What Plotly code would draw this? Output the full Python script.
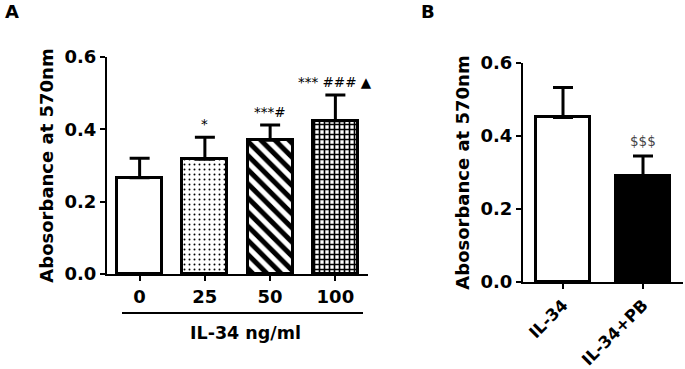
import plotly.graph_objects as go

# Panel A data
a_categories = ["0", "25", "50", "100"]
a_means = [0.266, 0.317, 0.370, 0.424]
a_errors = [0.054, 0.061, 0.042, 0.071]
a_signif = ["", "*", "***#", "*** ### ▲"]
a_xtitle = "IL-34 ng/ml"

# Panel B data
b_categories = ["IL-34", "IL-34+PB"]
b_means = [0.451, 0.291]
b_errors = [0.082, 0.054]
b_signif = ["", "$$$"]

ytitle = "Abosorbance at 570nm"
yticks = [0.0, 0.2, 0.4, 0.6]

FONT = "DejaVu Sans, sans-serif"

fig = go.Figure()

a_patterns = [
    dict(shape=""),
    dict(shape=".", fgcolor="black", bgcolor="white", fgopacity=1, size=5, solidity=0.12),
    dict(shape="\\", fgcolor="black", bgcolor="white", fgopacity=1, size=10, solidity=0.5),
    dict(shape="+", fgcolor="black", bgcolor="white", fgopacity=1, size=5, solidity=0.55),
]

for i, c in enumerate(a_categories):
    fig.add_trace(go.Bar(
        x=[c], y=[a_means[i]], xaxis="x", yaxis="y",
        width=0.69,
        marker=dict(color="white", line=dict(color="black", width=3), pattern=a_patterns[i]),
        error_y=dict(type="data", array=[a_errors[i]], arrayminus=[0], symmetric=False,
                     color="black", thickness=3, width=10),
        showlegend=False,
    ))

b_colors = ["white", "black"]
for i, c in enumerate(b_categories):
    fig.add_trace(go.Bar(
        x=[c], y=[b_means[i]], xaxis="x2", yaxis="y2",
        width=0.67,
        marker=dict(color=b_colors[i], line=dict(color="black", width=3)),
        error_y=dict(type="data", array=[b_errors[i]], arrayminus=[0], symmetric=False,
                     color="black", thickness=3, width=10),
        showlegend=False,
    ))

axis_common = dict(
    showline=True, linecolor="black", linewidth=2,
    ticks="outside", tickcolor="black", tickwidth=2, ticklen=5,
    showgrid=False, zeroline=False, automargin=False,
    tickfont=dict(family=FONT, size=18, color="black", weight="bold"),
)

annotations = []
for i, s in enumerate(a_signif):
    if s:
        # category axes: annotation x given as category index
        annotations.append(dict(x=i, y=a_means[i] + a_errors[i], xref="x", yref="y",
                                text=s, showarrow=False, yanchor="bottom", yshift=3,
                                font=dict(family=FONT, size=13.5, color="black")))
for i, s in enumerate(b_signif):
    if s:
        annotations.append(dict(x=i, y=b_means[i] + b_errors[i], xref="x2", yref="y2",
                                text=s, showarrow=False, yanchor="bottom", yshift=5,
                                font=dict(family=FONT, size=13.5, color="#444444")))

annotations += [
    dict(x=12/685, y=1 - 12/369, xref="paper", yref="paper", text="A", showarrow=False,
         xanchor="center", yanchor="middle", font=dict(family=FONT, size=18, color="black", weight="bold")),
    dict(x=428/685, y=1 - 12/369, xref="paper", yref="paper", text="B", showarrow=False,
         xanchor="center", yanchor="middle", font=dict(family=FONT, size=18, color="black", weight="bold")),
    dict(x=245/685, y=1 - 333/369, xref="paper", yref="paper", text=a_xtitle, showarrow=False,
         xanchor="center", yanchor="middle", font=dict(family=FONT, size=17.5, color="black", weight="bold")),
]

axis_b_x = dict(axis_common)
axis_b_x["tickfont"] = dict(family=FONT, size=16.5, color="black", weight="bold")

fig.update_layout(
    width=685, height=369,
    margin=dict(l=0, r=0, t=0, b=0, autoexpand=False),
    paper_bgcolor="white", plot_bgcolor="white",
    bargap=0,
    xaxis=dict(domain=[107/685, 368/685], anchor="y", range=[-0.5, 3.5], type="category", **axis_common),
    yaxis=dict(domain=[0.2575, 0.8455], anchor="x", range=[0, 0.6], tickvals=yticks, tickformat=".1f",
               title=dict(text=ytitle, font=dict(family=FONT, size=18, color="black", weight="bold"), standoff=6),
               **axis_common),
    xaxis2=dict(domain=[523/685, 683/685], anchor="y2", range=[-0.5, 1.5], type="category",
                tickangle=-45, **axis_b_x),
    yaxis2=dict(domain=[0.2358, 0.8293], anchor="x2", range=[0, 0.6], tickvals=yticks, tickformat=".1f",
                title=dict(text=ytitle, font=dict(family=FONT, size=18, color="black", weight="bold"), standoff=6),
                **axis_common),
    annotations=annotations,
    shapes=[dict(type="line", xref="paper", yref="paper", x0=122/685, x1=363/685,
                 y0=(369-313)/369, y1=(369-313)/369, line=dict(color="black", width=2))],
)

fig.write_html("out.html", config={"displayModeBar": False},
               post_script="document.body.style.margin='0';document.body.style.overflow='hidden';")
